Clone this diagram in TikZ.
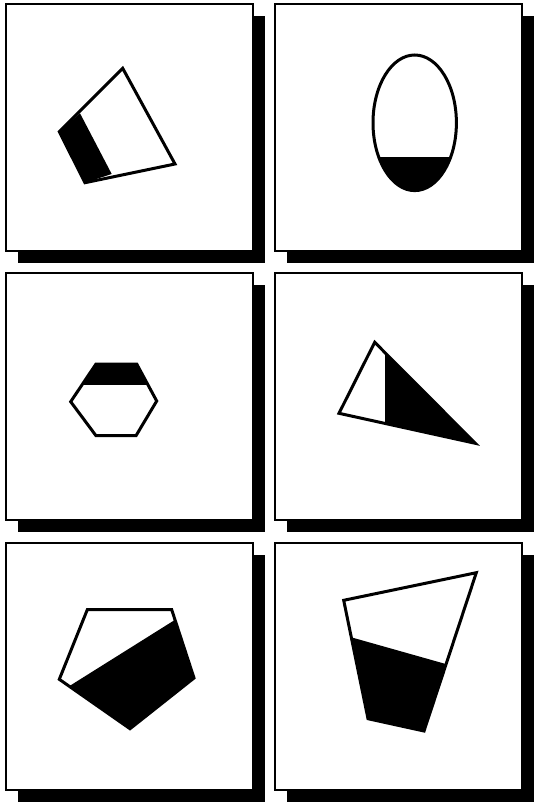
\documentclass[tikz,border=0pt]{standalone}
\begin{document}
\begin{tikzpicture}[x=1pt,y=-1pt,
  panel/.style={draw=black, line width=1.6pt, fill=white},
  figline/.style={draw=black, line width=3pt, line join=miter},
  darkfill/.style={fill=black}]
\useasboundingbox (0,0) rectangle (533,802);
\foreach \x/\y in {6/4,275/4,6/273,275/273,6/543,275/543}{
  \fill[black] (\x+12,\y+12) rectangle ++(247,247);
  \path[panel] (\x,\y) rectangle ++(247,247);
}
% Panel 1: quadrilateral
\fill[darkfill] (59.3,131.7) -- (80,113.3) -- (111.7,174) -- (85,182.7) -- cycle;
\path[figline] (122.7,68.3) -- (175,164) -- (85,182.7) -- (59.3,131.7) -- cycle;
% Panel 2: ellipse
\begin{scope}
  \clip (414.7,122.8) ellipse [x radius=41.7pt, y radius=67.8pt];
  \fill[darkfill] (360,156.7) rectangle (470,200);
\end{scope}
\path[figline] (414.7,122.8) ellipse [x radius=41.7pt, y radius=67.8pt];
% Panel 3: hexagon
\begin{scope}
  \clip (96,364) -- (136.7,364) -- (156.7,401) -- (136,435.7) -- (96,435.7) -- (70.7,401.7) -- cycle;
  \fill[darkfill] (60,350) rectangle (170,385);
\end{scope}
\path[figline] (96,364) -- (136.7,364) -- (156.7,401) -- (136,435.7) -- (96,435.7) -- (70.7,401.7) -- cycle;
% Panel 4: triangle
\begin{scope}
  \clip (374.7,342.3) -- (475.3,443.3) -- (339,413.3) -- cycle;
  \fill[darkfill] (384.7,330) rectangle (490,455);
\end{scope}
\path[figline] (374.7,342.3) -- (475.3,443.3) -- (339,413.3) -- cycle;
% Panel 5: pentagon
\begin{scope}
  \clip (87.3,609.7) -- (171.7,609.7) -- (194,678) -- (130,728.7) -- (59.3,679.3) -- cycle;
  \fill[darkfill] (40,704.5) -- (210,597.9) -- (210,740) -- (40,740) -- cycle;
\end{scope}
\path[figline] (87.3,609.7) -- (171.7,609.7) -- (194,678) -- (130,728.7) -- (59.3,679.3) -- cycle;
% Panel 6: quadrilateral
\begin{scope}
  \clip (343.7,600.3) -- (476.3,572.7) -- (424,731) -- (368,718.7) -- cycle;
  \fill[darkfill] (330,631.3) -- (490,676.5) -- (490,740) -- (330,740) -- cycle;
\end{scope}
\path[figline] (343.7,600.3) -- (476.3,572.7) -- (424,731) -- (368,718.7) -- cycle;
\end{tikzpicture}
\end{document}
